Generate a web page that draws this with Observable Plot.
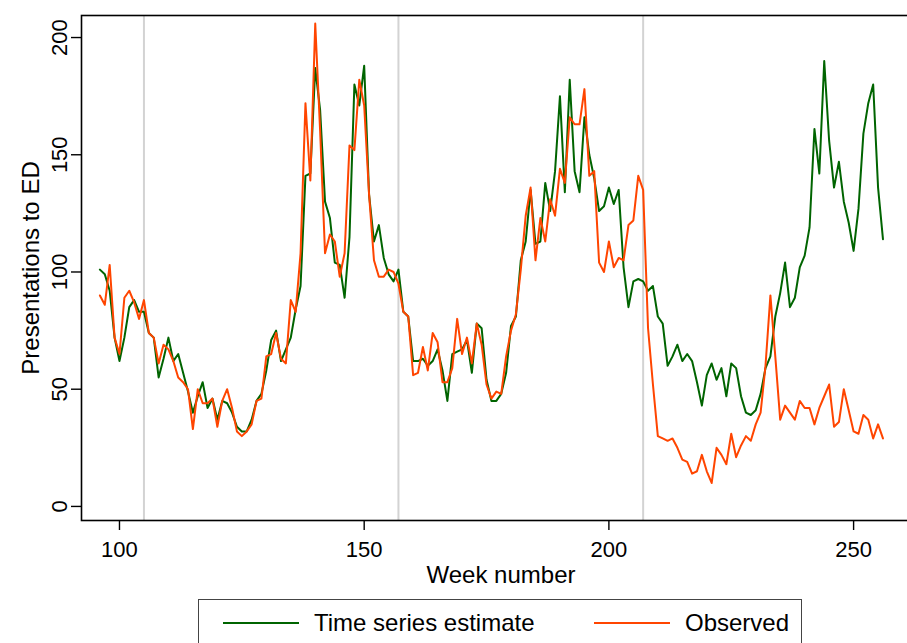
<!DOCTYPE html>
<html><head><meta charset="utf-8">
<script src="https://cdn.jsdelivr.net/npm/d3@7"></script>
<script src="https://cdn.jsdelivr.net/npm/@observablehq/plot@0.6"></script>
<style>
html, body { margin:0; padding:0; background:#fff; overflow:hidden; width:907px; height:643px; }
#wrap { position:relative; width:907px; height:643px; overflow:hidden; font-family:"Liberation Sans", Arial, sans-serif; }
#chart svg { max-width:none !important; }
#legend { position:absolute; left:198px; top:599px; width:604px; height:60px; border:1px solid #444; box-sizing:border-box; background:#fff; }
.item { position:absolute; top:0; height:46px; display:flex; align-items:center; font-size:24px; color:#000; white-space:nowrap; }
.key { display:inline-block; width:76px; height:2px; margin-right:15px; }
</style></head>
<body><div id="wrap"><div id="chart"></div><div id="legend"></div></div>
<script>
const weeks = [
  96,97,98,99,100,101,102,103,104,105,
  106,107,108,109,110,111,112,113,114,115,
  116,117,118,119,120,121,122,123,124,125,
  126,127,128,129,130,131,132,133,134,135,
  136,137,138,139,140,141,142,143,144,145,
  146,147,148,149,150,151,152,153,154,155,
  156,157,158,159,160,161,162,163,164,165,
  166,167,168,169,170,171,172,173,174,175,
  176,177,178,179,180,181,182,183,184,185,
  186,187,188,189,190,191,192,193,194,195,
  196,197,198,199,200,201,202,203,204,205,
  206,207,208,209,210,211,212,213,214,215,
  216,217,218,219,220,221,222,223,224,225,
  226,227,228,229,230,231,232,233,234,235,
  236,237,238,239,240,241,242,243,244,245,
  246,247,248,249,250,251,252,253,254,255,
  256
];
const estimate = [
  101,99,92,72,62,72,85,88,83,83,
  74,72,55,63,72,62,65,57,49,40,
  47,53,42,46,37,45,44,40,34,32,
  32,37,45,48,58,71,75,62,67,72,
  84,94,141,142,187,169,130,123,104,103,
  89,115,180,171,188,133,113,120,106,99,
  96,101,83,81,62,62,63,60,62,67,
  58,45,65,66,67,71,57,78,76,54,
  45,45,48,57,77,81,105,113,135,112,
  113,138,126,143,175,134,182,143,134,166,
  150,140,126,128,136,129,135,102,85,96,
  97,96,92,94,81,78,60,64,69,62,
  65,62,53,43,56,61,54,59,47,61,
  59,47,40,39,41,48,59,64,81,91,
  104,85,89,102,107,119,161,142,190,156,
  136,147,130,121,109,127,159,172,180,136,
  114
];
const observed = [
  90,86,103,72,65,89,92,87,80,88,
  74,72,61,69,67,62,55,53,50,33,
  50,44,44,46,34,45,50,42,32,30,
  32,35,45,46,64,65,74,63,61,88,
  83,108,172,139,206,160,108,116,113,98,
  108,154,152,182,171,133,105,98,98,101,
  100,95,83,81,56,57,68,58,74,70,
  53,53,59,80,65,72,61,78,69,52,
  46,49,48,64,75,82,101,124,136,105,
  123,113,131,124,144,138,166,163,163,178,
  141,143,104,100,113,102,106,105,120,122,
  141,135,76,52,30,29,28,29,25,20,
  19,14,15,22,15,10,25,22,18,31,
  21,26,30,28,35,40,60,90,64,37,
  43,40,37,45,42,42,35,42,47,52,
  34,36,50,41,32,31,39,37,29,35,
  29
];
const xTicks = [100, 150, 200, 250];
const yTicks = [0, 50, 100, 150, 200];
const breakWeeks = [105, 157, 207];
const seriesNames = ["Time series estimate", "Observed"];
const seriesColors = ["#006400", "#ff4500"];
const xTitle = "Week number";
const yTitle = "Presentations to ED";

const rows = [];
seriesNames.forEach((s, k) => {
  const vals = k === 0 ? estimate : observed;
  weeks.forEach((w, i) => rows.push({week: w, value: vals[i], series: s}));
});

const chart = Plot.plot({
  width: 920, height: 590,
  marginLeft: 81, marginRight: 0, marginTop: 15, marginBottom: 70,
  style: {fontFamily: "Liberation Sans, Arial, sans-serif", background: "white", color: "black", maxWidth: "none"},
  x: {domain: [92.24, 263.67], label: null},
  y: {domain: [-6, 209.4], label: null},
  color: {domain: seriesNames, range: seriesColors},
  marks: [
    Plot.ruleX(breakWeeks, {stroke: "#d3d3d3", strokeWidth: 2}),
    Plot.line(rows, {x: "week", y: "value", stroke: "series", z: "series", strokeWidth: 2}),
    Plot.frame({stroke: "black", strokeWidth: 1.6}),
    Plot.axisX(xTicks, {tickSize: 10, tickPadding: 11, fontSize: 22, label: null, strokeWidth: 1.4}),
    Plot.axisY(yTicks, {tickSize: 10, tickFormat: () => "", label: null, strokeWidth: 1.4}),
    Plot.text(yTicks, {y: d => d, text: d => String(d), frameAnchor: "left", dx: -15, rotate: -90, textAnchor: "middle", lineAnchor: "bottom", fontSize: 22, fill: "black"}),
    Plot.text([yTitle], {text: d => d, frameAnchor: "left", dx: -43, rotate: -90, textAnchor: "middle", lineAnchor: "bottom", fontSize: 24, fill: "black"}),
    Plot.text([xTitle], {text: d => d, frameAnchor: "bottom", dy: 62, lineAnchor: "bottom", fontSize: 24, fill: "black"})
  ]
});
document.getElementById("chart").appendChild(chart);

const legend = document.getElementById("legend");
const keyLefts = [24, 395];
seriesNames.forEach((s, k) => {
  const item = document.createElement("div");
  item.className = "item";
  item.style.left = keyLefts[k] + "px";
  const key = document.createElement("span");
  key.className = "key";
  key.style.background = seriesColors[k];
  const label = document.createElement("span");
  label.textContent = s;
  item.appendChild(key);
  item.appendChild(label);
  legend.appendChild(item);
});
</script>
</body></html>
